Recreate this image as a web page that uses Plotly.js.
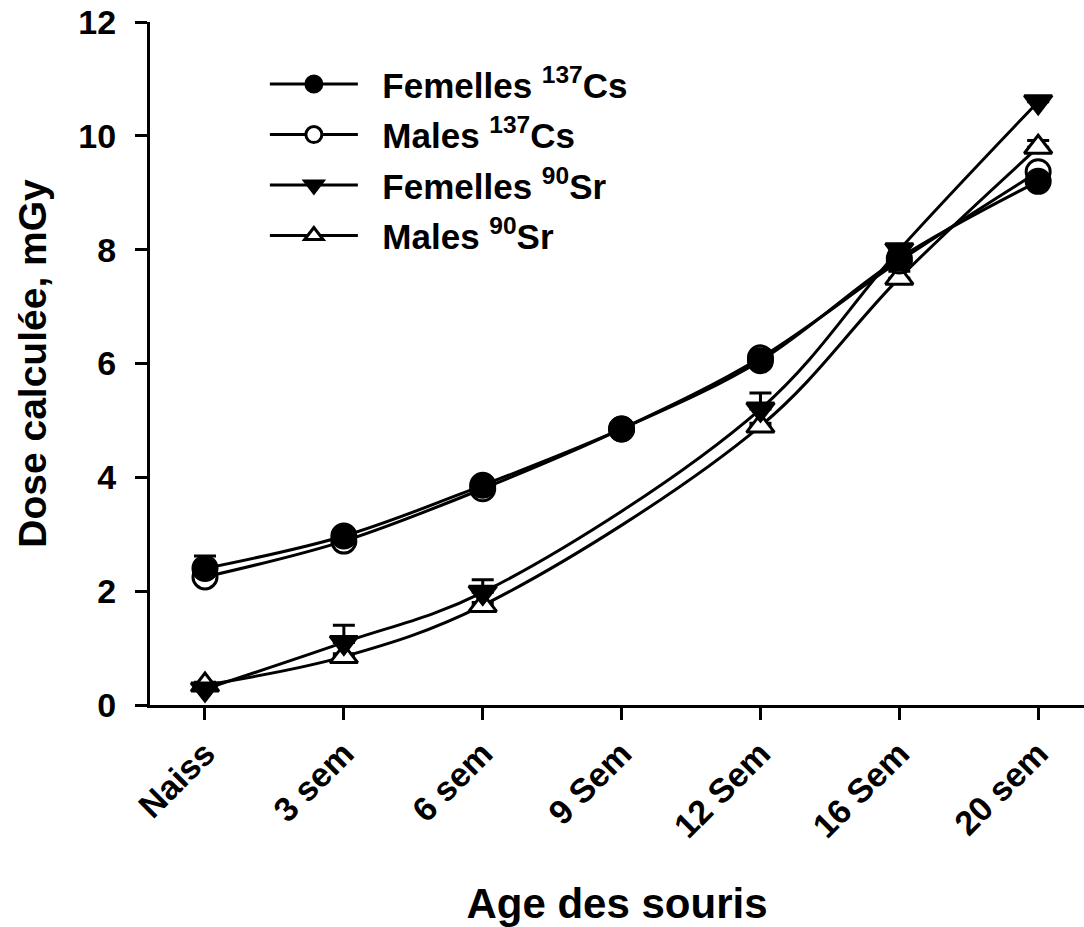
<!DOCTYPE html>
<html>
<head>
<meta charset="utf-8">
<script src="https://cdn.plot.ly/plotly-3.0.1.min.js"></script>
<style>html,body{margin:0;padding:0;background:#fff;}#chart{width:1084px;height:927px;}</style>
</head>
<body>
<div id="chart"></div>
<script>
const categories = ["Naiss", "3 sem", "6 sem", "9 Sem", "12 Sem", "16 Sem", "20 sem"];
const srCategories = ["Naiss", "3 sem", "6 sem", "12 Sem", "16 Sem", "20 sem"];

const femellesCs = [2.40, 2.97, 3.86, 4.85, 6.05, 7.85, 9.20];
const femellesCsErr = [0.22, 0.05, 0.05, 0.03, 0.05, 0.05, 0.05];
const malesCs = [2.25, 2.88, 3.80, 4.85, 6.10, 7.80, 9.37];
const malesCsErr = [0.05, 0.05, 0.05, 0.03, 0.05, 0.05, 0.05];
const femellesSr = [0.28, 1.10, 1.98, 5.20, 8.00, 10.60];
const femellesSrErr = [0.05, 0.30, 0.22, 0.28, 0.05, 0.05];
const malesSr = [0.35, 0.85, 1.75, 4.90, 7.50, 9.80];
const malesSrErr = [0.05, 0.05, 0.05, 0.05, 0.12, 0.12];

const names = ["Femelles <sup>137</sup>Cs", "Males <sup>137</sup>Cs", "Femelles <sup>90</sup>Sr", "Males <sup>90</sup>Sr"];

function tr(x, y, err, name, symbol, fill, rank) {
  return {
    x: x, y: y, name: '\u00a0\u00a0' + name, type: 'scatter', mode: 'lines+markers',
    legendgroup: 'g' + rank, legendrank: rank,
    line: {color: '#000', width: 3, shape: 'spline', smoothing: 1},
    marker: {symbol: symbol, size: 24, color: fill, line: {color: '#000', width: 3}},
    error_y: {type: 'data', symmetric: false, array: err, arrayminus: err.map(() => 0),
              color: '#000', thickness: 3, width: 11},
    cliponaxis: false
  };
}

const data = [
  tr(srCategories, malesSr, malesSrErr, names[3], 'triangle-up', '#fff', 4),
  tr(srCategories, femellesSr, femellesSrErr, names[2], 'triangle-down', '#000', 3),
  tr(categories, malesCs, malesCsErr, names[1], 'circle', '#fff', 2),
  tr(categories, femellesCs, femellesCsErr, names[0], 'circle', '#000', 1)
];

const font = {family: 'Liberation Sans, Arial, sans-serif', color: '#000', weight: 'bold'};

const layout = {
  width: 1084, height: 927,
  margin: {l: 150, r: 0, t: 22, b: 222},
  paper_bgcolor: '#fff', plot_bgcolor: '#fff',
  showlegend: true,
  legend: {
    x: 0.123, y: 0.952, xanchor: 'left', yanchor: 'top',
    traceorder: 'grouped', tracegroupgap: 2, itemwidth: 88,
    font: Object.assign({}, font, {size: 35}),
    bgcolor: 'rgba(0,0,0,0)'
  },
  xaxis: {
    type: 'category', categoryorder: 'array', categoryarray: categories,
    range: [-0.396, 6.33],
    showline: true, linecolor: '#000', linewidth: 3, mirror: false,
    showgrid: false, zeroline: false,
    ticks: 'outside', ticklen: 12, tickwidth: 3, tickcolor: '#000',
    tickangle: -45,
    tickfont: Object.assign({}, font, {size: 34}),
    title: {text: 'Age des souris', font: Object.assign({}, font, {size: 42}), standoff: 45},
    automargin: false
  },
  yaxis: {
    range: [0, 12], dtick: 2,
    showline: true, linecolor: '#000', linewidth: 3,
    showgrid: false, zeroline: false,
    ticks: 'outside', ticklen: 12, tickwidth: 3, tickcolor: '#000',
    ticklabelstandoff: 12,
    tickfont: Object.assign({}, font, {size: 34}),
    title: {text: 'Dose calculée, mGy', font: Object.assign({}, font, {size: 39}), standoff: 20},
    automargin: false
  }
};

Plotly.newPlot('chart', data, layout, {displayModeBar: false, staticPlot: true});
</script>
</body>
</html>
